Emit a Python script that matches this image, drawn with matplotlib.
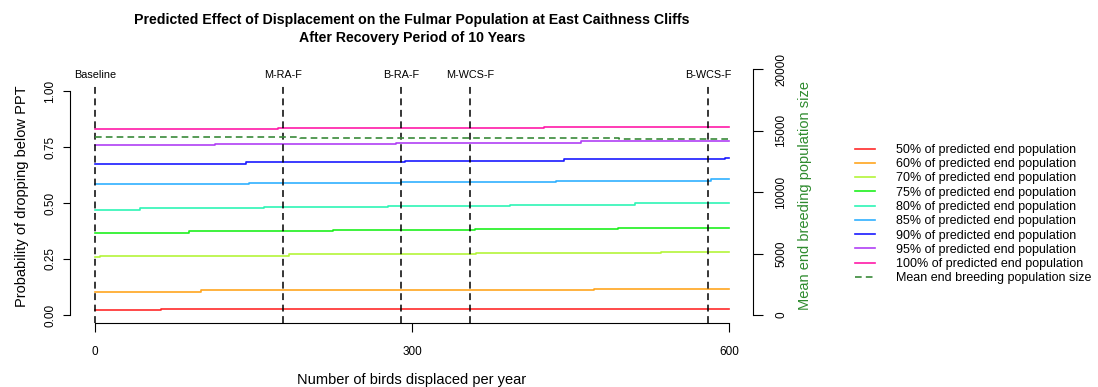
import matplotlib
matplotlib.use("Agg")
from matplotlib import pyplot as plt
from matplotlib.transforms import blended_transform_factory

plt.rcParams['font.family'] = ['Liberation Sans', 'DejaVu Sans']

# scenarios marked with vertical lines (birds displaced per year)
scenario_labels = ["Baseline", "M-RA-F", "B-RA-F", "M-WCS-F", "B-WCS-F"]
scenario_birds = [0, 178, 290, 355, 580]

# probability of dropping below PPT, as step changes over birds displaced
birds_50 = [0, 62, 600]
prob_50 = [0.022, 0.028, 0.028]
birds_60 = [0, 100, 472, 600]
prob_60 = [0.104, 0.110, 0.115, 0.115]
birds_70 = [0, 5, 184, 361, 536, 600]
prob_70 = [0.259, 0.265, 0.272, 0.278, 0.283, 0.283]
birds_75 = [0, 89, 225, 360, 495, 600]
prob_75 = [0.367, 0.373, 0.378, 0.385, 0.390, 0.390]
birds_80 = [0, 43, 160, 277, 393, 511, 600]
prob_80 = [0.470, 0.477, 0.484, 0.488, 0.492, 0.498, 0.498]
birds_85 = [0, 146, 290, 436, 583, 600]
prob_85 = [0.585, 0.591, 0.595, 0.600, 0.607, 0.607]
birds_90 = [0, 143, 293, 444, 596, 600]
prob_90 = [0.676, 0.682, 0.688, 0.695, 0.701, 0.701]
birds_95 = [0, 114, 285, 460, 600]
prob_95 = [0.757, 0.763, 0.769, 0.775, 0.775]
birds_100 = [0, 173, 425, 600]
prob_100 = [0.829, 0.834, 0.839, 0.839]

# mean end breeding population size (right axis)
birds_mean = [0, 194, 496, 600]
mean_pop = [14500, 14390, 14310, 14310]

series_labels = ["50% of predicted end population", "60% of predicted end population",
                 "70% of predicted end population", "75% of predicted end population",
                 "80% of predicted end population", "85% of predicted end population",
                 "90% of predicted end population", "95% of predicted end population",
                 "100% of predicted end population"]
series_colors = ["#ff2a2a", "#ffa51f", "#b4f53a", "#1ef01e", "#2ef5b5",
                 "#30b0ff", "#1a1aff", "#b040f5", "#ff1aa8"]
series_birds = [birds_50, birds_60, birds_70, birds_75, birds_80, birds_85, birds_90, birds_95, birds_100]
series_probs = [prob_50, prob_60, prob_70, prob_75, prob_80, prob_85, prob_90, prob_95, prob_100]

fig = plt.figure(figsize=(10.98, 3.87), dpi=100)
ax = fig.add_axes([70 / 1098, 64 / 387, 683 / 1098, 254 / 387])
ax.set_xlim(-23.7, 622.7)
ax.set_ylim(-0.0357, 1.098)

handles = []
for b, p, c, lab in zip(series_birds, series_probs, series_colors, series_labels):
    h, = ax.plot(b, p, drawstyle='steps-post', color=c, lw=1.2, label=lab)
    handles.append(h)

# scenario lines and labels
trans = blended_transform_factory(ax.transData, ax.transAxes)
for sx, sl in zip(scenario_birds, scenario_labels):
    ax.axvline(sx, ymin=0, ymax=0.94, color='black', lw=1.1, linestyle=(0, (4.5, 3)))
    ax.text(sx, 0.976, sl, transform=trans, ha='center', va='center', fontsize=7.8)

for s in ['top', 'right']:
    ax.spines[s].set_visible(False)
ax.spines['left'].set_bounds(0, 1)
ax.spines['bottom'].set_bounds(0, 600)
ax.set_xticks([0, 300, 600])
ax.set_yticks([0, 0.25, 0.5, 0.75, 1.0])
ax.set_yticklabels(["0.00", "0.25", "0.50", "0.75", "1.00"], rotation=90, va='center')
ax.tick_params(axis='x', length=6.5, pad=10, labelsize=8.5)
ax.tick_params(axis='y', length=5, pad=5, labelsize=8.5)
ax.set_xlabel("Number of birds displaced per year", fontsize=10.5, labelpad=11)
ax.set_ylabel("Probability of dropping below PPT", fontsize=10.5, labelpad=11)

# right axis for mean population
ax2 = ax.twinx()
ax2.set_ylim(-650, 20000)
h_mean, = ax2.plot(birds_mean, mean_pop, drawstyle='steps-post', color='#3a8a3a', lw=1.2,
                   linestyle=(0, (4, 2.5)), label="Mean end breeding population size")
handles.append(h_mean)
for s in ['top', 'left', 'bottom']:
    ax2.spines[s].set_visible(False)
ax2.spines['right'].set_bounds(0, 20000)
ax2.set_yticks([0, 5000, 10000, 15000, 20000])
ax2.set_yticklabels(["0", "5000", "10000", "15000", "20000"], rotation=90, va='center')
ax2.tick_params(axis='y', length=7, pad=9, labelsize=8.5)
ax2.set_ylabel("Mean end breeding population size", fontsize=10.5, color='#2e8b2e', labelpad=8)

fig.suptitle("Predicted Effect of Displacement on the Fulmar Population at East Caithness Cliffs\n"
             "After Recovery Period of 10 Years", x=412 / 1098, y=1 - 13 / 387,
             fontsize=10.2, fontweight='bold', va='top', linespacing=1.4)

fig.legend(handles=handles, loc='upper left', bbox_to_anchor=(855 / 1098, 1 - 144 / 387),
           frameon=False, fontsize=9, labelspacing=0.18, handlelength=1.6,
           handletextpad=1.7, borderpad=0, borderaxespad=0)

fig.savefig("out.png", dpi=100)
